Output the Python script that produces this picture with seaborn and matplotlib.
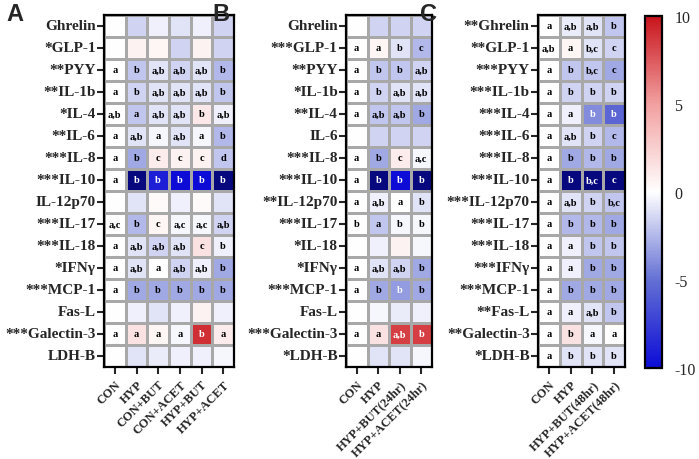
import numpy as np
import matplotlib
matplotlib.use('Agg')
import matplotlib.pyplot as plt
import seaborn as sns
from matplotlib.colors import LinearSegmentedColormap

sns.set_style('white')
plt.rcParams['font.family'] = ['Liberation Serif', 'DejaVu Serif']

markers = ['Ghrelin', 'GLP-1', 'PYY', 'IL-1b', 'IL-4', 'IL-6', 'IL-8', 'IL-10',
           'IL-12p70', 'IL-17', 'IL-18', 'IFN\u03b3', 'MCP-1', 'Fas-L', 'Galectin-3', 'LDH-B']

# ---- Panel A ----
cols_a = ['CON', 'HYP', 'CON+BUT', 'CON+ACET', 'HYP+BUT', 'HYP+ACET']
stars_a = ['', '*', '**', '**', '*', '**', '***', '***', '', '***', '***', '*', '***', '', '***', '']
vals_a = [
    [0, -1.5, -0.5, -1.0, -0.5, -1.5],
    [0, 0.7, 0.5, -1.5, 0.7, -1.5],
    [0, -2.0, -1.0, -1.5, -1.0, -2.5],
    [0, -1.5, -1.0, -1.0, -1.0, -2.0],
    [0, -2.0, -1.0, -1.0, 1.2, -0.5],
    [0, -1.0, -0.3, -1.0, -0.3, -2.5],
    [0, -3.0, 1.0, 0.7, 0.7, -2.0],
    [0, -14, -9.0, -10.0, -10.0, -12],
    [0, -1.0, 0.3, -0.5, 0.3, -1.0],
    [0, -2.5, 0.5, -0.3, -0.3, -1.5],
    [0, -1.0, -1.5, -1.0, 1.5, -0.5],
    [0, -1.0, 0.0, -1.5, -0.5, -3.0],
    [0, -3.0, -3.0, -3.0, -3.0, -3.0],
    [0, -0.5, -1.0, -0.5, 0.7, -0.5],
    [0, 1.5, 0.5, -0.3, 9.0, 1.0],
    [0, -1.0, -0.7, -0.5, -0.5, -0.3],
]
letters_a = [
    ['', '', '', '', '', ''],
    ['', '', '', '', '', ''],
    ['a', 'b', 'a,b', 'a,b', 'a,b', 'b'],
    ['a', 'b', 'a,b', 'a,b', 'a,b', 'b'],
    ['a,b', 'a', 'a,b', 'a,b', 'b', 'a,b'],
    ['a', 'a,b', 'a', 'a,b', 'a', 'b'],
    ['a', 'b', 'c', 'c', 'c', 'd'],
    ['a', 'b', 'b', 'b', 'b', 'b'],
    ['', '', '', '', '', ''],
    ['a,c', 'b', 'c', 'a,c', 'a,c', 'a,b'],
    ['a', 'a,b', 'a,b', 'a,b', 'c', 'b'],
    ['a', 'a,b', 'a', 'a,b', 'a,b', 'b'],
    ['a', 'b', 'b', 'b', 'b', 'b'],
    ['', '', '', '', '', ''],
    ['a', 'a', 'a', 'a', 'b', 'a'],
    ['', '', '', '', '', ''],
]

# ---- Panel B ----
cols_b = ['CON', 'HYP', 'HYP+BUT(24hr)', 'HYP+ACET(24hr)']
stars_b = ['', '***', '**', '*', '**', '', '***', '***', '**', '***', '*', '*', '***', '', '***', '*']
vals_b = [
    [0, -1.5, -1.5, -1.5],
    [0, 0.5, -1.0, -2.5],
    [0, -2.0, -2.0, -1.5],
    [0, -1.5, -1.0, -1.0],
    [0, -2.0, -2.0, -3.0],
    [0, -1.5, -1.5, -1.5],
    [0, -3.0, 1.0, -0.3],
    [0, -14, -10.0, -12],
    [0, -0.5, 0.0, -1.0],
    [0, -2.0, -0.3, -0.3],
    [0, -0.5, 0.7, -0.3],
    [0, -1.0, -1.5, -3.0],
    [0, -3.0, -3.5, -3.0],
    [0, -0.3, -0.7, -0.5],
    [0, 1.5, 8.5, 8.5],
    [0, -1.0, -1.0, -0.3],
]
letters_b = [
    ['', '', '', ''],
    ['a', 'a', 'b', 'c'],
    ['a', 'b', 'b', 'a,b'],
    ['a', 'b', 'a,b', 'a,b'],
    ['a', 'a,b', 'a,b', 'b'],
    ['', '', '', ''],
    ['a', 'b', 'c', 'a,c'],
    ['a', 'b', 'b', 'b'],
    ['a', 'a,b', 'a', 'b'],
    ['b', 'a', 'b', 'b'],
    ['', '', '', ''],
    ['a', 'a,b', 'a,b', 'b'],
    ['a', 'b', 'b', 'b'],
    ['', '', '', ''],
    ['a', 'a', 'a,b', 'b'],
    ['', '', '', ''],
]

# ---- Panel C ----
cols_c = ['CON', 'HYP', 'HYP+BUT(48hr)', 'HYP+ACET(48hr)']
stars_c = ['**', '**', '***', '***', '***', '***', '***', '***', '***', '***', '***', '***', '***', '**', '**', '*']
vals_c = [
    [0, -0.7, -1.0, -2.0],
    [0, 0.5, -1.0, -1.5],
    [0, -2.0, -2.0, -3.0],
    [0, -1.5, -1.5, -1.5],
    [0, -0.5, -4.0, -5.5],
    [0, -1.0, -1.5, -2.5],
    [0, -3.0, -2.5, -3.0],
    [0, -14, -13, -14],
    [0, -1.0, -1.5, -2.0],
    [0, -2.5, -2.5, -3.0],
    [0, -0.5, -2.0, -2.0],
    [0, -0.5, -3.0, -3.0],
    [0, -3.0, -3.0, -3.0],
    [0, -0.5, -1.0, -2.0],
    [0, 1.5, -0.3, 0.0],
    [0, -1.0, -1.0, -1.0],
]
letters_c = [
    ['a', 'a,b', 'a,b', 'b'],
    ['a,b', 'a', 'b,c', 'c'],
    ['a', 'b', 'b,c', 'c'],
    ['a', 'b', 'b', 'b'],
    ['a', 'a', 'b', 'b'],
    ['a', 'a,b', 'b', 'c'],
    ['a', 'b', 'b', 'b'],
    ['a', 'b', 'b,c', 'c'],
    ['a', 'a,b', 'b', 'b,c'],
    ['a', 'b', 'b', 'b'],
    ['a', 'a', 'b', 'b'],
    ['a', 'a', 'b', 'b'],
    ['a', 'b', 'b', 'b'],
    ['a', 'a', 'a,b', 'b'],
    ['a', 'b', 'a', 'a'],
    ['a', 'b', 'b', 'b'],
]

cmap = LinearSegmentedColormap.from_list(
    'bwr_custom',
    [(0.0, '#0c0cd6'), (0.25, '#6470d4'), (0.5, '#ffffff'), (0.75, '#f2a0a0'), (1.0, '#c8141c')])
cmap.set_under('#08087e')
cmap.set_over('#a00000')

W, H = 699, 460
fig = plt.figure(figsize=(W / 100, H / 100), dpi=100)


def px_axes(x0, y0, x1, y1):
    return fig.add_axes([x0 / W, 1 - y1 / H, (x1 - x0) / W, (y1 - y0) / H])


def draw_panel(ax, vals, letters, cols, stars):
    ylabels = [s + m for s, m in zip(stars, markers)]
    sns.heatmap(np.array(vals), ax=ax, cmap=cmap, vmin=-10, vmax=10, cbar=False,
                annot=np.array(letters), fmt='', linewidths=1.0, linecolor='#a8a8a8',
                annot_kws={'fontsize': 7.5, 'fontweight': 'bold'},
                xticklabels=cols, yticklabels=ylabels)
    # black letters on light cells, keep white on dark ones
    for t in ax.texts:
        if t.get_color() != 'w':
            t.set_color('black')
    for s in ax.spines.values():
        s.set_visible(True)
        s.set_color('black')
        s.set_linewidth(1.6)
    ax.tick_params(axis='y', left=True, length=5, width=1.5, pad=1, labelsize=11, rotation=0)
    ax.tick_params(axis='x', bottom=True, length=5, width=1.5, pad=3, labelsize=9)
    for lab in ax.get_yticklabels():
        lab.set_fontweight('bold')
    for lab in ax.get_xticklabels():
        lab.set_fontweight('bold')
        lab.set_rotation(45)
        lab.set_ha('right')
        lab.set_rotation_mode('anchor')


ax_a = px_axes(104, 16, 234, 368)
ax_b = px_axes(346, 16, 432, 368)
ax_c = px_axes(538, 16, 625, 368)
draw_panel(ax_a, vals_a, letters_a, cols_a, stars_a)
draw_panel(ax_b, vals_b, letters_b, cols_b, stars_b)
draw_panel(ax_c, vals_c, letters_c, cols_c, stars_c)

for lx, lab in [(6, 'A'), (212, 'B'), (420, 'C')]:
    fig.text(lx / W, 1 - 3 / H, lab, fontsize=17, fontweight='bold',
             family=['Liberation Sans', 'DejaVu Sans'], va='top', ha='left')

# colorbar
cax = px_axes(645, 17, 662, 369)
sm = plt.cm.ScalarMappable(cmap=cmap, norm=plt.Normalize(-10, 10))
cb = fig.colorbar(sm, cax=cax, ticks=[-10, -5, 0, 5, 10])
cb.outline.set_linewidth(1.6)
cb.outline.set_edgecolor('black')
cax.tick_params(direction='in', length=4, width=1.5, left=True, right=True, labelsize=11.5, pad=9)
cax.set_yticklabels(['-10', '-5', '0', '5', '10'])

plt.savefig('out.png', dpi=100)
plt.close()
